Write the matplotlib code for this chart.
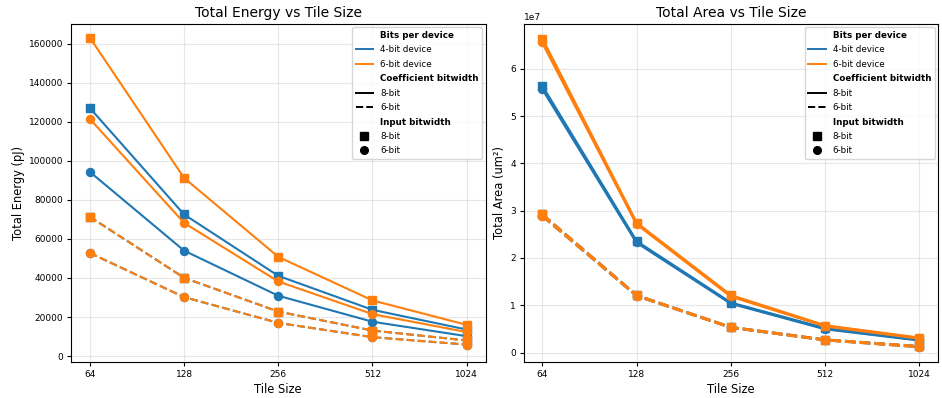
import matplotlib.pyplot as plt
from matplotlib.lines import Line2D

tile_sizes = [64, 128, 256, 512, 1024]

# energy (pJ), keys: (device bits, coefficient bits, input bits)
energy = {
    (4, 8, 8): [127000, 72500, 41100, 23700, 13600],
    (4, 8, 6): [94300, 54000, 30900, 17600, 10200],
    (4, 6, 8): [71300, 40100, 22800, 13100, 8000],
    (4, 6, 6): [52800, 30200, 17000, 9700, 5900],
    (6, 8, 8): [163000, 91200, 50800, 28500, 16000],
    (6, 8, 6): [121400, 68200, 38200, 21500, 12300],
    (6, 6, 8): [71300, 40100, 22800, 13100, 8000],
    (6, 6, 6): [52800, 30200, 17000, 9700, 5900],
}

# area (um^2)
area = {
    (4, 8, 8): [5.63e7, 2.35e7, 1.05e7, 0.51e7, 0.27e7],
    (4, 8, 6): [5.58e7, 2.33e7, 1.04e7, 0.50e7, 0.26e7],
    (4, 6, 8): [2.92e7, 1.21e7, 0.535e7, 0.27e7, 0.13e7],
    (4, 6, 6): [2.89e7, 1.20e7, 0.53e7, 0.265e7, 0.12e7],
    (6, 8, 8): [6.63e7, 2.74e7, 1.21e7, 0.57e7, 0.31e7],
    (6, 8, 6): [6.56e7, 2.72e7, 1.19e7, 0.56e7, 0.30e7],
    (6, 6, 8): [2.92e7, 1.21e7, 0.535e7, 0.27e7, 0.13e7],
    (6, 6, 6): [2.89e7, 1.20e7, 0.53e7, 0.265e7, 0.12e7],
}

colors = {4: '#1f77b4', 6: '#ff7f0e'}
styles = {8: '-', 6: '--'}
markers = {8: 's', 6: 'o'}


def draw(ax, data, lw, title, ylabel):
    for dev in (4, 6):
        for coef in (8, 6):
            for inp in (6, 8):
                ax.plot(tile_sizes, data[(dev, coef, inp)], color=colors[dev],
                        linestyle=styles[coef], marker=markers[inp],
                        linewidth=lw, markersize=5.8)
    ax.set_xscale('log', base=2)
    ax.set_xticks(tile_sizes)
    ax.set_xticklabels([str(t) for t in tile_sizes])
    ax.minorticks_off()
    ax.grid(True, alpha=0.3)
    ax.set_title(title, fontsize=10, pad=5)
    ax.set_xlabel('Tile Size', fontsize=8.3, labelpad=3)
    ax.set_ylabel(ylabel, fontsize=8.3, labelpad=3)
    ax.tick_params(labelsize=6.5, length=3, pad=2.5)

    blank = Line2D([], [], linestyle='none')
    handles = [blank,
               Line2D([], [], color=colors[4], lw=1.4),
               Line2D([], [], color=colors[6], lw=1.4),
               blank,
               Line2D([], [], color='black', lw=1.4, linestyle='-'),
               Line2D([], [], color='black', lw=1.4, linestyle='--'),
               blank,
               Line2D([], [], color='black', marker='s', linestyle='none', markersize=5.5),
               Line2D([], [], color='black', marker='o', linestyle='none', markersize=5.5)]
    labels = ['Bits per device', '4-bit device', '6-bit device',
              'Coefficient bitwidth', '8-bit', '6-bit',
              'Input bitwidth', '8-bit', '6-bit']
    leg = ax.legend(handles, labels, loc='upper right', fontsize=6.3,
                    labelspacing=0.62, borderaxespad=0.4)
    for i in (0, 3, 6):
        leg.get_texts()[i].set_fontweight('bold')


fig, (ax1, ax2) = plt.subplots(1, 2, figsize=(9.42, 3.98), dpi=100)
draw(ax1, energy, 1.5, 'Total Energy vs Tile Size', 'Total Energy (pJ)')
draw(ax2, area, 2.0, 'Total Area vs Tile Size', 'Total Area (um²)')
ax1.set_ylim(-3000, 170000)
ax1.set_yticks(range(0, 160001, 20000))
ax2.set_ylim(-0.2e7, 6.95e7)
ax2.yaxis.get_offset_text().set_fontsize(6.5)

plt.subplots_adjust(left=0.0754, right=0.9958, top=0.9397, bottom=0.0905, wspace=0.0916)
plt.savefig('out.png')
